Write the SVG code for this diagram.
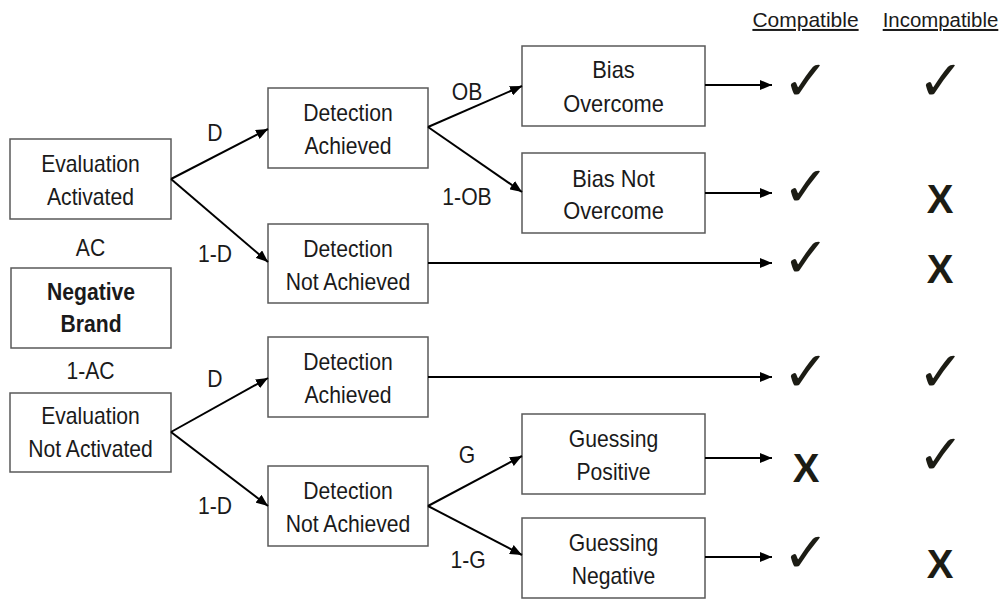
<svg xmlns="http://www.w3.org/2000/svg" width="1007" height="600" viewBox="0 0 1007 600">
<style>
.box{fill:#fff;stroke:#595959;stroke-width:1.5}
.t{font-family:"Liberation Sans",Arial,sans-serif;font-size:23px;fill:#1a1a1a;text-anchor:middle}
.b{font-weight:bold;font-size:23px}
.lbl{font-family:"Liberation Sans",Arial,sans-serif;font-size:23px;fill:#1a1a1a;text-anchor:middle}
.hdr{font-family:"Liberation Sans",Arial,sans-serif;font-size:20px;fill:#1a1a1a;text-anchor:middle;text-decoration:underline}
.ck{font-family:"DejaVu Sans",sans-serif;font-size:56px;fill:#1c1c14;text-anchor:middle}
.x{font-family:"Liberation Sans",Arial,sans-serif;font-size:40px;font-weight:bold;fill:#1c1c14;text-anchor:middle}
.c{stroke:#000;stroke-width:2;fill:none;marker-end:url(#ah)}
</style>
<defs>
<marker id="ah" markerWidth="12" markerHeight="10" refX="12" refY="5" orient="auto" markerUnits="userSpaceOnUse">
<path d="M0,0 L12,5 L0,10 Z" fill="#000"/>
</marker>
</defs>

<g id="header">
<text class="hdr" transform="translate(805.5 27) scale(1.05 1)">Compatible</text>
<text class="hdr" transform="translate(940.5 27) scale(1.02 1)">Incompatible</text>
</g>

<g id="eval-activated">
<rect class="box" x="10" y="139" width="161" height="80"/>
<text class="t" transform="translate(90.5 172) scale(0.92 1)">Evaluation</text>
<text class="t" transform="translate(90.5 205) scale(0.92 1)">Activated</text>
</g>
<g id="label-ac"><text class="t" transform="translate(90.5 256) scale(0.92 1)">AC</text></g>
<g id="negative-brand">
<rect class="box" x="11" y="268" width="160" height="80"/>
<text class="t b" transform="translate(91 300) scale(0.92 1)">Negative</text>
<text class="t b" transform="translate(91 332) scale(0.92 1)">Brand</text>
</g>
<g id="label-1ac"><text class="t" transform="translate(90.5 379) scale(0.92 1)">1-AC</text></g>
<g id="eval-not-activated">
<rect class="box" x="10" y="393" width="161" height="79"/>
<text class="t" transform="translate(90.5 424) scale(0.92 1)">Evaluation</text>
<text class="t" transform="translate(90.5 457) scale(0.92 1)">Not Activated</text>
</g>

<g id="detection-achieved-1">
<rect class="box" x="268" y="88" width="160" height="80"/>
<text class="t" transform="translate(348 121) scale(0.92 1)">Detection</text>
<text class="t" transform="translate(348 154) scale(0.92 1)">Achieved</text>
</g>
<g id="detection-not-achieved-1">
<rect class="box" x="268" y="224" width="160" height="79"/>
<text class="t" transform="translate(348 257) scale(0.92 1)">Detection</text>
<text class="t" transform="translate(348 290) scale(0.92 1)">Not Achieved</text>
</g>
<g id="detection-achieved-2">
<rect class="box" x="268" y="337" width="160" height="80"/>
<text class="t" transform="translate(348 370) scale(0.92 1)">Detection</text>
<text class="t" transform="translate(348 403) scale(0.92 1)">Achieved</text>
</g>
<g id="detection-not-achieved-2">
<rect class="box" x="268" y="466" width="160" height="80"/>
<text class="t" transform="translate(348 499) scale(0.92 1)">Detection</text>
<text class="t" transform="translate(348 532) scale(0.92 1)">Not Achieved</text>
</g>

<g id="bias-overcome">
<rect class="box" x="522" y="46" width="183" height="80"/>
<text class="t" transform="translate(613.5 78) scale(0.95 1)">Bias</text>
<text class="t" transform="translate(613.5 112) scale(0.95 1)">Overcome</text>
</g>
<g id="bias-not-overcome">
<rect class="box" x="522" y="153" width="183" height="80"/>
<text class="t" transform="translate(613.5 187) scale(0.95 1)">Bias  Not</text>
<text class="t" transform="translate(613.5 219) scale(0.95 1)">Overcome</text>
</g>
<g id="guessing-positive">
<rect class="box" x="522" y="414" width="183" height="80"/>
<text class="t" transform="translate(613.5 447) scale(0.92 1)">Guessing</text>
<text class="t" transform="translate(613.5 480) scale(0.92 1)">Positive</text>
</g>
<g id="guessing-negative">
<rect class="box" x="522" y="518" width="183" height="80"/>
<text class="t" transform="translate(613.5 551) scale(0.92 1)">Guessing</text>
<text class="t" transform="translate(613.5 584) scale(0.92 1)">Negative</text>
</g>

<g id="connectors">
<line class="c" x1="171" y1="179" x2="268" y2="129"/>
<line class="c" x1="171" y1="179" x2="268" y2="262"/>
<line class="c" x1="171" y1="432" x2="268" y2="378"/>
<line class="c" x1="171" y1="432" x2="268" y2="506"/>
<line class="c" x1="428" y1="127" x2="522" y2="86"/>
<line class="c" x1="428" y1="127" x2="522" y2="192"/>
<line class="c" x1="428" y1="506" x2="522" y2="456"/>
<line class="c" x1="428" y1="506" x2="522" y2="555"/>
<line class="c" x1="705" y1="85" x2="772" y2="85"/>
<line class="c" x1="705" y1="193" x2="772" y2="193"/>
<line class="c" x1="428" y1="263" x2="772" y2="263"/>
<line class="c" x1="428" y1="377" x2="772" y2="377"/>
<line class="c" x1="705" y1="458" x2="772" y2="458"/>
<line class="c" x1="705" y1="557" x2="772" y2="557"/>
</g>

<g id="edge-labels">
<text class="lbl" transform="translate(215 141) scale(0.92 1)">D</text>
<text class="lbl" transform="translate(215 262) scale(0.92 1)">1-D</text>
<text class="lbl" transform="translate(215 387) scale(0.92 1)">D</text>
<text class="lbl" transform="translate(215 514) scale(0.92 1)">1-D</text>
<text class="lbl" transform="translate(467 100) scale(0.92 1)">OB</text>
<text class="lbl" transform="translate(467 205) scale(0.92 1)">1-OB</text>
<text class="lbl" transform="translate(467 463) scale(0.92 1)">G</text>
<text class="lbl" transform="translate(468 568) scale(0.92 1)">1-G</text>
</g>

<g id="outcomes">
<text class="ck" x="806" y="100">✓</text>
<text class="ck" x="941" y="100">✓</text>
<text class="ck" x="806" y="206">✓</text>
<text class="x" x="940" y="213">X</text>
<text class="ck" x="806" y="277">✓</text>
<text class="x" x="940" y="283">X</text>
<text class="ck" x="806" y="391">✓</text>
<text class="ck" x="941" y="391">✓</text>
<text class="x" x="806" y="482">X</text>
<text class="ck" x="941" y="474">✓</text>
<text class="ck" x="806" y="572">✓</text>
<text class="x" x="940" y="578">X</text>
</g>
</svg>
